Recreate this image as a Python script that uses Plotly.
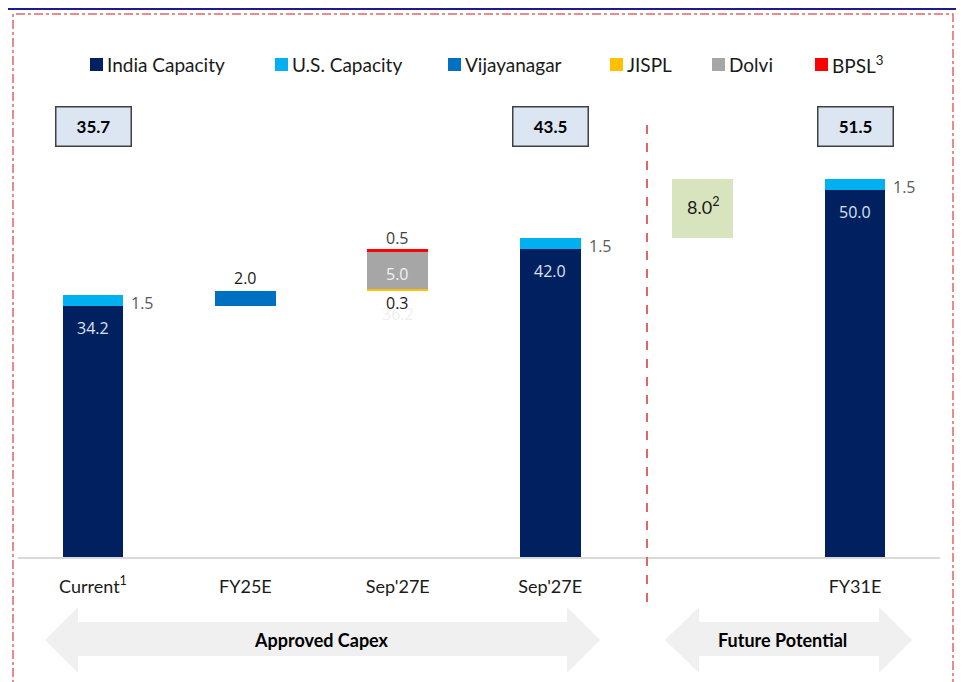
import plotly.graph_objects as go

# ---------------- data ----------------
categories = ["Current", "FY25E", "Sep'27E", "Sep'27E", "", "FY31E"]
tick_labels = ["Current<sup>1</sup>", "FY25E", "Sep'27E", "Sep'27E", "", "FY31E"]
india_capacity = [34.2, None, None, 42.0, None, 50.0]
us_capacity = [1.5, None, None, 1.5, None, 1.5]
vijayanagar = [None, 2.0, None, None, None, None]
jispl = [None, None, 0.3, None, None, None]
dolvi = [None, None, 5.0, None, None, None]
bpsl = [None, None, 0.5, None, None, None]
future_potential = [None, None, None, None, 8.0, None]
totals = [35.7, None, None, 43.5, None, 51.5]

series_names = ["India Capacity", "U.S. Capacity", "Vijayanagar", "JISPL", "Dolvi", "BPSL<sup>3</sup>"]
series_colors = ["#002060", "#00B0F0", "#0070C0", "#FFC000", "#A6A6A6", "#FF0000"]
future_color = "#D7E4BD"

W, H = 964, 682
OFF = 8  # page body margin
X = lambda px: (px - OFF) / W
Y = lambda py: 1 - (py - OFF) / H

xs = list(range(len(categories)))
BW = 0.4

# bases (waterfall)
start = india_capacity[0]
vij_base = [start if v is not None else None for v in vijayanagar]
after_vij = start + vijayanagar[1]
jispl_base = [after_vij if v is not None else None for v in jispl]
dolvi_base = [after_vij + jispl[2] if v is not None else None for v in dolvi]
bpsl_base = [after_vij + jispl[2] + dolvi[2] if v is not None else None for v in bpsl]
fut_base = [totals[3] if v is not None else None for v in future_potential]
us_base = [india_capacity[i] if us_capacity[i] is not None else None for i in xs]

fig = go.Figure()

def add_bar(vals, base, color, name):
    fig.add_trace(go.Bar(x=xs, y=vals, base=base, width=BW, name=name,
                         marker=dict(color=color, line=dict(width=0)),
                         showlegend=False, hoverinfo="skip"))

add_bar(india_capacity, [0] * len(xs), series_colors[0], series_names[0])
add_bar(us_capacity, us_base, series_colors[1], series_names[1])
add_bar(vijayanagar, vij_base, series_colors[2], series_names[2])
add_bar(jispl, jispl_base, series_colors[3], series_names[3])
add_bar(dolvi, dolvi_base, series_colors[4], series_names[4])
add_bar(bpsl, bpsl_base, series_colors[5], series_names[5])
add_bar(future_potential, fut_base, future_color, "Future Potential")

ann = []
LBL = "Open Sans"
CAL = "Lato"

# inside labels of India capacity
for i, v in enumerate(india_capacity):
    if v is not None:
        ann.append(dict(x=i, y=v, text=f"{v:.1f}", showarrow=False, yanchor="middle",
                        yshift=-22, font=dict(family=LBL, size=16, color="#DCE3EF")))
# US labels right of bar
for i, v in enumerate(us_capacity):
    if v is not None:
        ann.append(dict(x=i + BW / 2, y=us_base[i] + v, text=f"{v:.1f}", showarrow=False,
                        xanchor="left", yanchor="middle", xshift=6, yshift=-8,
                        font=dict(family=LBL, size=16, color="#595959")))
# total boxes
for i, v in enumerate(totals):
    if v is not None:
        ann.append(dict(x=i, xref="x", y=Y(126.7), yref="paper", yanchor="middle",
                        text=f"<b>{v:.1f}</b>",
                        showarrow=False, width=74, height=38, borderpad=0,
                        bgcolor="#DCE6F2", bordercolor="#404040", borderwidth=1.5,
                        font=dict(family=CAL, size=17, color="#000000")))
# Vijayanagar label above
ann.append(dict(x=1, y=vij_base[1] + vijayanagar[1], text=f"{vijayanagar[1]:.1f}", showarrow=False,
                yanchor="middle", yshift=13, font=dict(family=LBL, size=16, color="#1A1A1A")))
# BPSL above
ann.append(dict(x=2, y=bpsl_base[2] + bpsl[2], text=f"{bpsl[2]:.1f}", showarrow=False,
                yanchor="middle", yshift=11, font=dict(family=LBL, size=16, color="#404040")))
# faint hidden label
ann.append(dict(x=2, y=jispl_base[2], text=f"{jispl_base[2]:.1f}", showarrow=False,
                yanchor="middle", yshift=-23, font=dict(family=LBL, size=16, color="#F0F0F0")))
# JISPL below
ann.append(dict(x=2, y=jispl_base[2], text=f"{jispl[2]:.1f}", showarrow=False,
                yanchor="middle", yshift=-12, font=dict(family=LBL, size=16, color="#1A1A1A")))
# Dolvi inside
ann.append(dict(x=2, y=dolvi_base[2] + dolvi[2] / 2, text=f"{dolvi[2]:.1f}", showarrow=False,
                yanchor="middle", yshift=-3, font=dict(family=LBL, size=16, color="#F2F2F2")))
# Future potential
ann.append(dict(x=4, y=fut_base[4] + future_potential[4] / 2, text=f"{future_potential[4]:.1f}<sup>2</sup>",
                showarrow=False, yanchor="middle", yshift=2,
                font=dict(family=CAL, size=18, color="#1A1A1A")))

# manual legend
leg_sq_x = [90, 275, 448, 610, 712, 815]
shapes = []
for nm, col, lx in zip(series_names, series_colors, leg_sq_x):
    shapes.append(dict(type="rect", xref="paper", yref="paper", x0=X(lx), x1=X(lx + 13),
                       y0=Y(71), y1=Y(58), fillcolor=col, line=dict(width=0)))
    ann.append(dict(x=X(lx + 15), y=Y(64), xref="paper", yref="paper", text=nm, showarrow=False,
                    xanchor="left", yanchor="middle", font=dict(family=CAL, size=19, color="#1A1A1A")))

# top navy line (as high as the page allows)
shapes.append(dict(type="line", xref="paper", yref="paper", x0=0, x1=1, y0=0.9985, y1=0.9985,
                   line=dict(color="#1C1C8C", width=2)))
# dashed border
shapes.append(dict(type="rect", xref="paper", yref="paper", x0=X(13), x1=X(953), y0=Y(720), y1=Y(14),
                   line=dict(color="#E06666", width=1.5, dash="dashdot")))
# separator
shapes.append(dict(type="line", xref="paper", yref="paper", x0=X(647), x1=X(647), y0=Y(125), y1=Y(606),
                   line=dict(color="#E06666", width=2, dash="dash")))
# axis line
shapes.append(dict(type="line", xref="paper", yref="paper", x0=X(18), x1=X(940), y0=Y(558), y1=Y(558),
                   line=dict(color="#D9D9D9", width=2), layer="below"))

def arrow(x0, x1, hb0, hb1, yt, yb, ht, hbm, ym):
    pts = [(x0, ym), (hb0, ht), (hb0, yt), (hb1, yt), (hb1, ht), (x1, ym), (hb1, hbm), (hb1, yb), (hb0, yb), (hb0, hbm)]
    d = "M " + " L ".join(f"{X(a):.5f},{Y(b):.5f}" for a, b in pts) + " Z"
    return dict(type="path", xref="paper", yref="paper", path=d, fillcolor="#F0F0F0",
                line=dict(width=0), layer="below")

shapes.append(arrow(45, 600, 78, 567, 622, 656, 607, 673, 640))
shapes.append(arrow(665, 912, 699, 879, 622, 656, 607, 673, 640))
ann.append(dict(x=X(321), y=Y(640), xref="paper", yref="paper", xanchor="center", yanchor="middle",
                text="<b>Approved Capex</b>",
                showarrow=False, font=dict(family=CAL, size=18, color="#000000")))
ann.append(dict(x=X(782), y=Y(640), xref="paper", yref="paper", xanchor="center", yanchor="middle",
                text="<b>Future Potential</b>",
                showarrow=False, font=dict(family=CAL, size=18, color="#000000")))

c0 = 93 - OFF
x_lo = -c0 / 152.4
x_hi = (W - c0) / 152.4
base_px = 557 - OFF
fig.update_layout(
    width=W, height=H, margin=dict(l=0, r=0, t=0, b=0),
    paper_bgcolor="white", plot_bgcolor="rgba(0,0,0,0)",
    barmode="overlay", bargap=0,
    xaxis=dict(domain=[0, 1], range=[x_lo, x_hi], tickvals=xs, ticktext=tick_labels,
               showgrid=False, zeroline=False, showline=False, ticks="",
               ticklabelstandoff=17, tickfont=dict(family=CAL, size=18, color="#1A1A1A")),
    yaxis=dict(domain=[1 - base_px / H, 1], range=[0, base_px / 7.339], visible=False),
    shapes=shapes, annotations=ann, showlegend=False,
)

fig.write_html("out.html")
